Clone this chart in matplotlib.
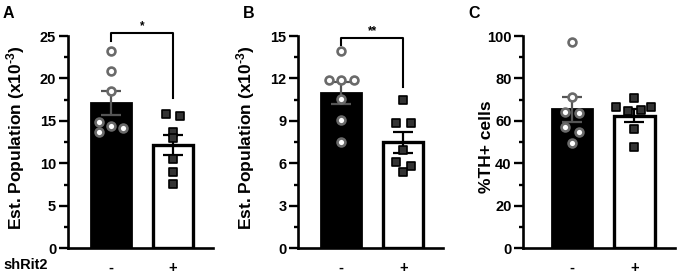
import numpy as np
import matplotlib
matplotlib.use("Agg")
import matplotlib.pyplot as plt
from matplotlib.ticker import MultipleLocator

plt.rcParams['font.family'] = ['Liberation Sans', 'DejaVu Sans']
plt.rcParams['font.weight'] = 'bold'
plt.rcParams['mathtext.fontset'] = 'custom'
plt.rcParams['mathtext.rm'] = 'Liberation Sans:bold'
plt.rcParams['mathtext.bf'] = 'Liberation Sans:bold'
plt.rcParams['mathtext.default'] = 'bf'

# ---- data ----
groups = ["-", "+"]
a_ctrl = [23.27, 20.92, 18.53, 14.91, 14.40, 14.20, 13.73]
a_sh = [15.78, 15.58, 13.73, 12.95, 10.48, 9.02, 7.57]
b_ctrl = [13.96, 11.89, 11.89, 11.89, 10.55, 9.07, 7.53]
b_sh = [10.46, 8.83, 8.83, 6.95, 6.12, 5.82, 5.37]
c_ctrl = [97.3, 71.1, 64.4, 63.6, 57.0, 54.9, 49.7]
c_sh = [70.9, 66.4, 66.7, 64.8, 65.1, 56.0, 47.6]

# jitter (style only)
a_ctrl_dx = [0, 0, 0, -0.2, 0, 0.2, -0.2]
a_sh_dx = [-0.12, 0.12, 0, 0, 0, 0, 0]
b_ctrl_dx = [0, -0.2, 0, 0.2, 0, 0, 0]
b_sh_dx = [0, -0.12, 0.12, 0, -0.12, 0.12, 0]
c_ctrl_dx = [0, 0, -0.107, 0.107, -0.107, 0.107, 0]
c_sh_dx = [0, -0.29, 0.27, -0.107, 0.1, 0, 0]

fig = plt.figure(figsize=(6.8, 2.75), dpi=100)

ylab_est = "Est. Population (x10$^{\u20103}$)"

panels = [
    dict(rect=[0.100, 0.097, 0.2132, 0.772], ctrl=a_ctrl, sh=a_sh, cdx=a_ctrl_dx, sdx=a_sh_dx,
         ylim=25, major=5, minor=2.5, xlim=(-0.694, 1.645),
         ylabel=ylab_est, lab_x=-0.285, lab_y=0.52,
         sig=dict(y=25.3, l=24.45, r=17.67, txt="*", ty=25.4), letter="A", lx=3),
    dict(rect=[0.4387, 0.097, 0.2132, 0.772], ctrl=b_ctrl, sh=b_sh, cdx=b_ctrl_dx, sdx=b_sh_dx,
         ylim=15, major=3, minor=1.5, xlim=(-0.694, 1.645),
         ylabel=ylab_est, lab_x=-0.287, lab_y=0.52,
         sig=dict(y=14.84, l=14.37, r=11.42, txt="**", ty=14.9), letter="B", lx=243),
    dict(rect=[0.7696, 0.097, 0.2230, 0.772], ctrl=c_ctrl, sh=c_sh, cdx=c_ctrl_dx, sdx=c_sh_dx,
         ylim=100, major=20, minor=10, xlim=(-0.78, 1.65),
         ylabel="%TH+ cells", lab_x=-0.195, lab_y=0.478,
         sig=None, letter="C", lx=468),
]

for p in panels:
    ax = fig.add_axes(p["rect"])
    ctrl = np.array(p["ctrl"]); sh = np.array(p["sh"])
    means = [ctrl.mean(), sh.mean()]
    sems = [ctrl.std(ddof=1) / np.sqrt(len(ctrl)), sh.std(ddof=1) / np.sqrt(len(sh))]
    ax.bar(0, means[0], width=0.645, color="black", edgecolor="black", linewidth=2, zorder=1)
    ax.bar(1, means[1], width=0.645, color="white", edgecolor="black", linewidth=2.4, zorder=1)
    ax.errorbar(0, means[0], yerr=sems[0], color="#555555", capsize=7, elinewidth=1.6,
                capthick=1.6, zorder=2)
    ax.errorbar(1, means[1], yerr=sems[1], color="black", capsize=7, elinewidth=1.6,
                capthick=1.6, zorder=2)
    ax.scatter(np.zeros(len(ctrl)) + np.array(p["cdx"]), ctrl, s=32, marker="o",
               facecolor="white", edgecolor="#6a6a6a", linewidth=1.9, zorder=3, clip_on=False)
    ax.scatter(np.ones(len(sh)) + np.array(p["sdx"]), sh, s=30, marker="s",
               facecolor="#333333", edgecolor="black", linewidth=1.2, zorder=3, clip_on=False)

    ax.set_xlim(*p["xlim"])
    ax.set_ylim(0, p["ylim"])
    ax.yaxis.set_major_locator(MultipleLocator(p["major"]))
    ax.yaxis.set_minor_locator(MultipleLocator(p["minor"]))
    ax.set_xticks([0, 1])
    ax.set_xticklabels(groups, fontsize=10.5, fontweight="bold")
    ax.tick_params(axis="x", length=0, pad=9)
    ax.tick_params(axis="y", which="major", length=6.5, width=1.7, labelsize=10.5, pad=2)
    ax.tick_params(axis="y", which="minor", length=3, width=1.7)
    for lbl in ax.get_yticklabels():
        lbl.set_fontweight("bold")
    for s in ["top", "right"]:
        ax.spines[s].set_visible(False)
    for s in ["left", "bottom"]:
        ax.spines[s].set_linewidth(1.9)
    ax.set_ylabel(p["ylabel"], fontsize=12.5, fontweight="bold")
    ax.yaxis.set_label_coords(p["lab_x"], p["lab_y"])

    sg = p["sig"]
    if sg:
        ax.plot([0, 0, 1, 1], [sg["l"], sg["y"], sg["y"], sg["r"]], color="black",
                linewidth=1.5, clip_on=False, zorder=4)
        ax.text(0.5, sg["ty"], sg["txt"], ha="center", va="bottom", fontsize=8.5,
                fontweight="bold")

    fig.text(p["lx"] / 680, 1 - 13 / 275, p["letter"], fontsize=11.5, fontweight="bold",
             va="center", ha="left")

fig.text(3 / 680, 1 - 265 / 275, "shRit2", fontsize=10.5, fontweight="bold", va="center",
         ha="left")

fig.savefig("out.png", dpi=100)
